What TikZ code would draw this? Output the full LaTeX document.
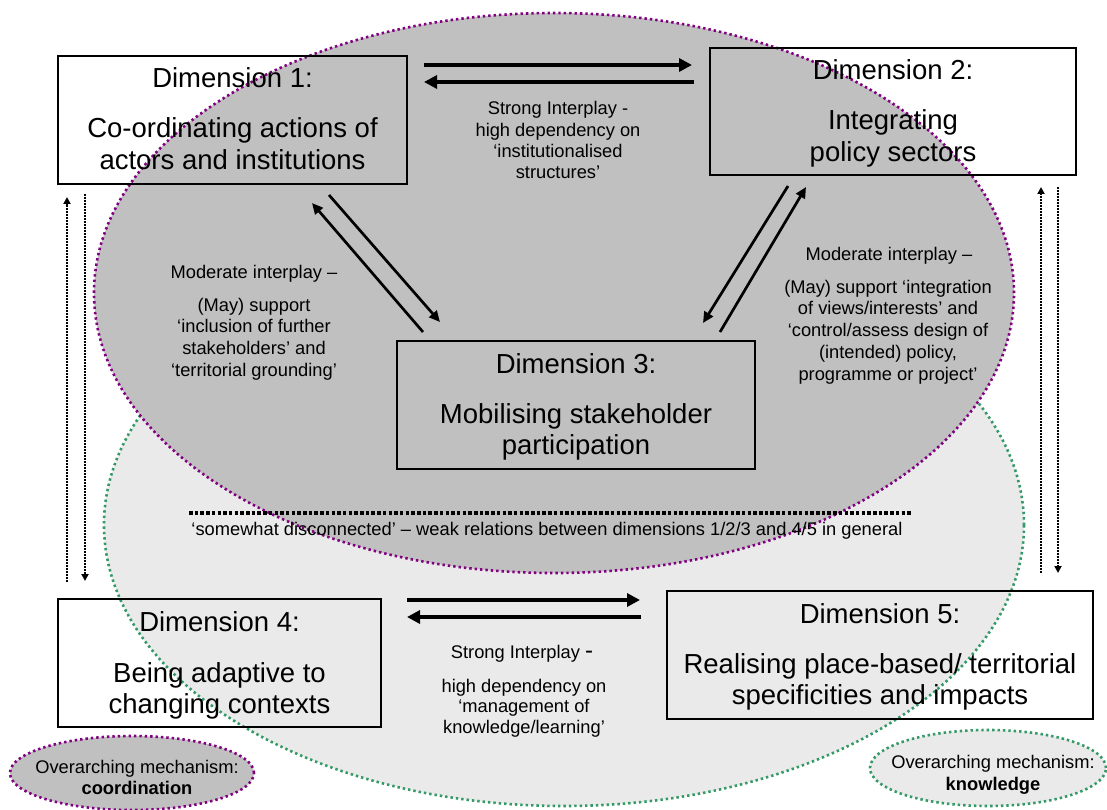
\documentclass[tikz,border=0pt]{standalone}
\usepackage{fontspec}
\setmainfont{Liberation Sans}
\usetikzlibrary{arrows.meta}
\definecolor{dotpurple}{RGB}{128,0,128}
\definecolor{dotgreen}{RGB}{51,153,102}
\definecolor{darkfill}{RGB}{192,192,192}
\definecolor{lightfill}{RGB}{234,234,234}
\newcommand{\blocklines}[2]{\vtop{\baselineskip=#1\lineskiplimit=-20pt\lineskip=0pt\halign{\hfil##\hfil\cr #2\crcr}}}
\tikzset{
  dimbox/.style={draw=black, line width=1.2pt, rectangle, inner sep=0pt, outer sep=0pt},
  bigtxt/.style={font=\fontsize{27.5pt}{31.5pt}\selectfont, inner sep=0pt, anchor=base},
  smalltxt/.style={font=\fontsize{18.3pt}{21.5pt}\selectfont, inner sep=0pt, anchor=base},
  strongarrow/.style={line width=4pt, -{Triangle[length=13pt,width=13pt]}},
  modarrow/.style={line width=2.7pt, -{Triangle[length=11pt,width=10pt]}},
  dotarrow/.style={line width=1.8pt, dash pattern=on 1.6pt off 1.4pt, -{Triangle[length=7pt,width=7pt]}},
  purpledots/.style={draw=dotpurple, line width=2.6pt, dash pattern=on 2.4pt off 3pt},
  greendots/.style={draw=dotgreen, line width=2.6pt, dash pattern=on 2.4pt off 3pt},
  disconnect/.style={line width=3.5pt, dash pattern=on 3.5pt off 2.2pt},
}
\begin{document}
\begin{tikzpicture}[x=1pt,y=-1pt]
\useasboundingbox (0,0) rectangle (1107,810);
\begin{scope}
\clip (0,0) rectangle (1107,810);
% background ellipses
\path[fill=lightfill, greendots] (564,525) ellipse [x radius=460pt, y radius=281pt];
\path[fill=darkfill, purpledots] (554,293) ellipse [x radius=460pt, y radius=280pt];
% mechanism ellipses
\path[fill=darkfill, purpledots] (132,773) ellipse [x radius=122pt, y radius=37pt];
\path[fill=lightfill, greendots] (988,768) ellipse [x radius=118pt, y radius=38pt];
\end{scope}

% dimension boxes
\node[dimbox, minimum width=349pt, minimum height=128pt] (d1) at (232.5,120) {};
\node[dimbox, minimum width=366pt, minimum height=127pt] (d2) at (893,111.5) {};
\node[dimbox, minimum width=358pt, minimum height=128pt] (d3) at (576,405) {};
\node[dimbox, minimum width=323pt, minimum height=128pt] (d4) at (219.5,663) {};
\node[dimbox, minimum width=426pt, minimum height=128pt] (d5) at (880,655) {};

% box texts
\node[bigtxt] (d1t) at (232.5,88) {Dimension 1:};
\node[bigtxt] (d1b) at (232.5,138) {\blocklines{31.5pt}{Co-ordinating actions of\cr actors and institutions}};
\node[bigtxt] (d2t) at (893,80) {Dimension 2:};
\node[bigtxt] (d2b) at (893,130) {\blocklines{31.5pt}{Integrating\cr policy sectors}};
\node[bigtxt] (d3t) at (576,373) {Dimension 3:};
\node[bigtxt] (d3b) at (576,423) {\blocklines{31.5pt}{Mobilising stakeholder\cr participation}};
\node[bigtxt] (d4t) at (219.5,631.5) {Dimension 4:};
\node[bigtxt] (d4b) at (219.5,682) {\blocklines{31.5pt}{Being adaptive to\cr changing contexts}};
\node[bigtxt] (d5t) at (880,623) {Dimension 5:};
\node[bigtxt] (d5b) at (880,673) {\blocklines{31.5pt}{Realising place-based/ territorial\cr specificities and impacts}};

% arrow end points
\coordinate (a12s) at (424,65);  \coordinate (a12e) at (692,65);
\coordinate (a21s) at (694,82);  \coordinate (a21e) at (424,82);
\coordinate (a45s) at (407,600); \coordinate (a45e) at (640,600);
\coordinate (a54s) at (641,617); \coordinate (a54e) at (407,617);
\coordinate (a13s) at (329,195); \coordinate (a13e) at (440,322);
\coordinate (a31s) at (423,332); \coordinate (a31e) at (312,203);
\coordinate (a23s) at (788,186); \coordinate (a23e) at (703,323);
\coordinate (a32s) at (720,332); \coordinate (a32e) at (806,187);
\coordinate (l14s) at (67,582);  \coordinate (l14e) at (67,197);
\coordinate (l41s) at (85,194);  \coordinate (l41e) at (85,581);
\coordinate (r25s) at (1041,573); \coordinate (r25e) at (1041,187);
\coordinate (r52s) at (1058,187); \coordinate (r52e) at (1058,573);
\coordinate (dcs) at (189,513); \coordinate (dce) at (911,513);

% strong interplay arrows
\draw[strongarrow] (a12s) -- (a12e);
\draw[strongarrow] (a21s) -- (a21e);
\draw[strongarrow] (a45s) -- (a45e);
\draw[strongarrow] (a54s) -- (a54e);
% moderate interplay arrows
\draw[modarrow] (a13s) -- (a13e);
\draw[modarrow] (a31s) -- (a31e);
\draw[modarrow] (a23s) -- (a23e);
\draw[modarrow] (a32s) -- (a32e);
% dotted vertical arrows
\draw[dotarrow] (l14s) -- (l14e);
\draw[dotarrow] (l41s) -- (l41e);
\draw[dotarrow] (r25s) -- (r25e);
\draw[dotarrow] (r52s) -- (r52e);
% disconnection line
\draw[disconnect] (dcs) -- (dce);

% labels
\node[smalltxt] (lbl12) at (558,115) {\blocklines{21.3pt}{Strong Interplay -\cr high dependency on\cr ‘institutionalised\cr structures’}};
\node[smalltxt] (lbl13a) at (254,278) {Moderate interplay –};
\node[smalltxt] (lbl13b) at (254,311) {\blocklines{21.8pt}{(May) support\cr ‘inclusion of further\cr stakeholders’ and\cr ‘territorial grounding’}};
\node[smalltxt] (lbl23a) at (889,260) {Moderate interplay –};
\node[smalltxt] (lbl23b) at (888,293) {\blocklines{21.8pt}{(May) support ‘integration\cr of views/interests’ and\cr ‘control/assess design of\cr (intended) policy,\cr programme or project’}};
\node[smalltxt] (lbldc) at (547,535) {‘somewhat disconnected’ – weak relations between dimensions 1/2/3 and 4/5 in general};
\node[smalltxt] (lbl45a) at (522,658) {Strong Interplay {\fontsize{24pt}{24pt}\selectfont -}};
\node[smalltxt] (lbl45b) at (524,692) {\blocklines{20.5pt}{high dependency on\cr ‘management of\cr knowledge/learning’}};
\node[smalltxt] (mechc) at (137,773) {\blocklines{21pt}{Overarching mechanism:\cr \textbf{coordination}}};
\node[smalltxt] (mechk) at (993,768) {\blocklines{22pt}{Overarching mechanism:\cr \textbf{knowledge}}};
\end{tikzpicture}
\end{document}
